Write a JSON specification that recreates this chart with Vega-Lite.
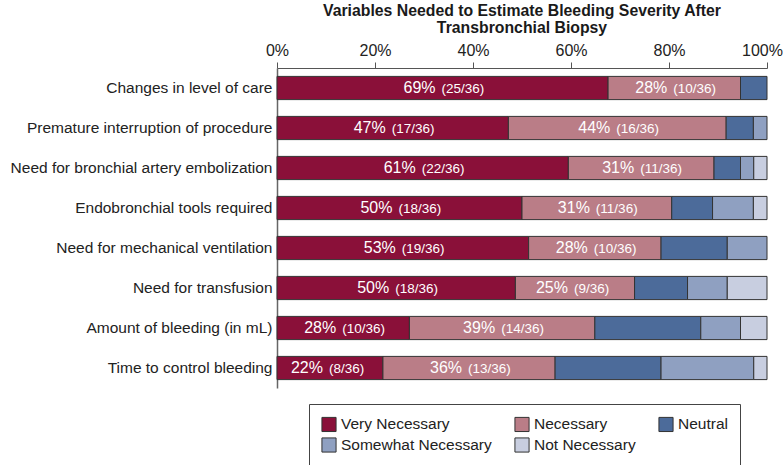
{
  "$schema": "https://vega.github.io/schema/vega-lite/v6.json",
  "width": 490,
  "height": 320,
  "padding": {"left": 10, "top": 3, "right": 0, "bottom": 2},
  "background": "white",
  "title": {
    "text": ["Variables Needed to Estimate Bleeding Severity After", "Transbronchial Biopsy"],
    "font": "Liberation Sans",
    "fontSize": 15.8,
    "fontWeight": "bold",
    "color": "#1a1a1a",
    "anchor": "middle",
    "lineHeight": 17,
    "offset": 5
  },
  "data": {
    "values": [
      {"item": "Changes in level of care", "level": "Very Necessary", "rank": 1, "n": 25, "pct": "69%", "cnt": "(25/36)"},
      {"item": "Changes in level of care", "level": "Necessary", "rank": 2, "n": 10, "pct": "28%", "cnt": "(10/36)"},
      {"item": "Changes in level of care", "level": "Neutral", "rank": 3, "n": 2, "pct": "", "cnt": ""},
      {"item": "Premature interruption of procedure", "level": "Very Necessary", "rank": 1, "n": 17, "pct": "47%", "cnt": "(17/36)"},
      {"item": "Premature interruption of procedure", "level": "Necessary", "rank": 2, "n": 16, "pct": "44%", "cnt": "(16/36)"},
      {"item": "Premature interruption of procedure", "level": "Neutral", "rank": 3, "n": 2, "pct": "", "cnt": ""},
      {"item": "Premature interruption of procedure", "level": "Somewhat Necessary", "rank": 4, "n": 1, "pct": "", "cnt": ""},
      {"item": "Need for bronchial artery embolization", "level": "Very Necessary", "rank": 1, "n": 22, "pct": "61%", "cnt": "(22/36)"},
      {"item": "Need for bronchial artery embolization", "level": "Necessary", "rank": 2, "n": 11, "pct": "31%", "cnt": "(11/36)"},
      {"item": "Need for bronchial artery embolization", "level": "Neutral", "rank": 3, "n": 2, "pct": "", "cnt": ""},
      {"item": "Need for bronchial artery embolization", "level": "Somewhat Necessary", "rank": 4, "n": 1, "pct": "", "cnt": ""},
      {"item": "Need for bronchial artery embolization", "level": "Not Necessary", "rank": 5, "n": 1, "pct": "", "cnt": ""},
      {"item": "Endobronchial tools required", "level": "Very Necessary", "rank": 1, "n": 18, "pct": "50%", "cnt": "(18/36)"},
      {"item": "Endobronchial tools required", "level": "Necessary", "rank": 2, "n": 11, "pct": "31%", "cnt": "(11/36)"},
      {"item": "Endobronchial tools required", "level": "Neutral", "rank": 3, "n": 3, "pct": "", "cnt": ""},
      {"item": "Endobronchial tools required", "level": "Somewhat Necessary", "rank": 4, "n": 3, "pct": "", "cnt": ""},
      {"item": "Endobronchial tools required", "level": "Not Necessary", "rank": 5, "n": 1, "pct": "", "cnt": ""},
      {"item": "Need for mechanical ventilation", "level": "Very Necessary", "rank": 1, "n": 19, "pct": "53%", "cnt": "(19/36)"},
      {"item": "Need for mechanical ventilation", "level": "Necessary", "rank": 2, "n": 10, "pct": "28%", "cnt": "(10/36)"},
      {"item": "Need for mechanical ventilation", "level": "Neutral", "rank": 3, "n": 5, "pct": "", "cnt": ""},
      {"item": "Need for mechanical ventilation", "level": "Somewhat Necessary", "rank": 4, "n": 3, "pct": "", "cnt": ""},
      {"item": "Need for transfusion", "level": "Very Necessary", "rank": 1, "n": 18, "pct": "50%", "cnt": "(18/36)"},
      {"item": "Need for transfusion", "level": "Necessary", "rank": 2, "n": 9, "pct": "25%", "cnt": "(9/36)"},
      {"item": "Need for transfusion", "level": "Neutral", "rank": 3, "n": 4, "pct": "", "cnt": ""},
      {"item": "Need for transfusion", "level": "Somewhat Necessary", "rank": 4, "n": 3, "pct": "", "cnt": ""},
      {"item": "Need for transfusion", "level": "Not Necessary", "rank": 5, "n": 3, "pct": "", "cnt": ""},
      {"item": "Amount of bleeding (in mL)", "level": "Very Necessary", "rank": 1, "n": 10, "pct": "28%", "cnt": "(10/36)"},
      {"item": "Amount of bleeding (in mL)", "level": "Necessary", "rank": 2, "n": 14, "pct": "39%", "cnt": "(14/36)"},
      {"item": "Amount of bleeding (in mL)", "level": "Neutral", "rank": 3, "n": 8, "pct": "", "cnt": ""},
      {"item": "Amount of bleeding (in mL)", "level": "Somewhat Necessary", "rank": 4, "n": 3, "pct": "", "cnt": ""},
      {"item": "Amount of bleeding (in mL)", "level": "Not Necessary", "rank": 5, "n": 2, "pct": "", "cnt": ""},
      {"item": "Time to control bleeding", "level": "Very Necessary", "rank": 1, "n": 8, "pct": "22%", "cnt": "(8/36)"},
      {"item": "Time to control bleeding", "level": "Necessary", "rank": 2, "n": 13, "pct": "36%", "cnt": "(13/36)"},
      {"item": "Time to control bleeding", "level": "Neutral", "rank": 3, "n": 8, "pct": "", "cnt": ""},
      {"item": "Time to control bleeding", "level": "Somewhat Necessary", "rank": 4, "n": 7, "pct": "", "cnt": ""},
      {"item": "Time to control bleeding", "level": "Not Necessary", "rank": 5, "n": 1, "pct": "", "cnt": ""}
    ]
  },
  "encoding": {
    "y": {
      "field": "item",
      "type": "nominal",
      "sort": null,
      "title": null,
      "scale": {"paddingInner": 0.42, "paddingOuter": 0.21},
      "axis": {
        "ticks": false,
        "labelFont": "Liberation Sans",
        "labelFontSize": 15.5,
        "labelColor": "#222",
        "labelPadding": 5,
        "domainColor": "#666",
        "domainWidth": 1.5,
        "labelLimit": 400
      }
    }
  },
  "layer": [
    {
      "mark": {"type": "bar", "stroke": "#333", "strokeWidth": 1},
      "encoding": {
        "x": {
          "field": "n",
          "type": "quantitative",
          "stack": "normalize",
          "title": null,
          "scale": {"domain": [0, 1], "nice": false},
          "axis": {
            "orient": "top",
            "format": "%",
            "values": [0, 0.2, 0.4, 0.6, 0.8, 1],
            "grid": false,
            "labelFont": "Liberation Sans",
            "labelFontSize": 16,
            "labelColor": "#222",
            "labelPadding": 4,
            "labelOffset": {"expr": "datum.value == 1 ? -5 : 0"},
            "tickSize": 6,
            "tickColor": "#555",
            "domainColor": "#555",
            "labelFlush": false
          }
        },
        "color": {
          "field": "level",
          "type": "nominal",
          "scale": {
            "domain": ["Very Necessary", "Necessary", "Neutral", "Somewhat Necessary", "Not Necessary"],
            "range": ["#8a1039", "#ba7d87", "#4c6b9a", "#8fa0c1", "#c8cee0"]
          },
          "legend": {
            "title": null,
            "orient": "none",
            "legendX": 32,
            "legendY": 336,
            "direction": "horizontal",
            "columns": 3,
            "symbolType": "square",
            "symbolSize": 200,
            "symbolStrokeColor": "#333",
            "symbolStrokeWidth": 1,
            "symbolOpacity": 1,
            "labelFont": "Liberation Sans",
            "labelFontSize": 15.5,
            "labelColor": "#222",
            "labelLimit": 300,
            "strokeColor": "#444",
            "padding": 12,
            "rowPadding": 1,
            "columnPadding": 20
          }
        },
        "order": {"field": "rank", "type": "quantitative"}
      }
    },
    {
      "mark": {"type": "text", "align": "right", "baseline": "middle", "dx": -7, "color": "white", "font": "Liberation Sans", "fontSize": 16},
      "encoding": {
        "x": {"field": "n", "type": "quantitative", "stack": "normalize", "bandPosition": 0.5},
        "text": {"field": "pct"},
        "order": {"field": "rank", "type": "quantitative"}
      }
    },
    {
      "mark": {"type": "text", "align": "left", "baseline": "middle", "dx": -1, "dy": 1, "color": "white", "font": "Liberation Sans", "fontSize": 13.5},
      "encoding": {
        "x": {"field": "n", "type": "quantitative", "stack": "normalize", "bandPosition": 0.5},
        "text": {"field": "cnt"},
        "order": {"field": "rank", "type": "quantitative"}
      }
    }
  ],
  "config": {"view": {"stroke": null}}
}
